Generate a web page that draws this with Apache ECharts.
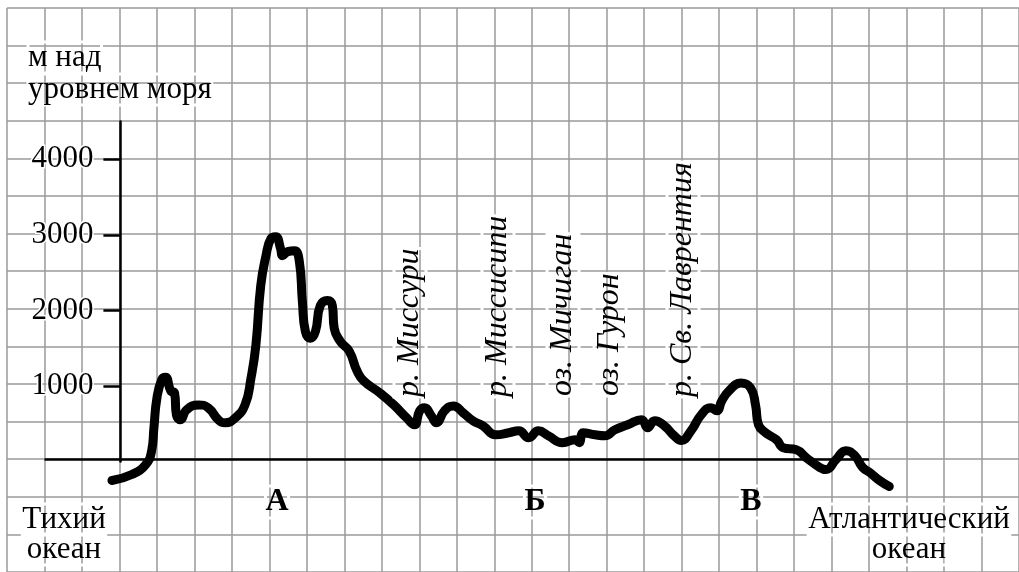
<!DOCTYPE html>
<html>
<head>
<meta charset="utf-8">
<script src="https://cdn.jsdelivr.net/npm/echarts@6/dist/echarts.min.js"></script>
<style>
html,body{margin:0;padding:0;background:#fff;}
#c{width:1019px;height:572px;}
</style>
</head>
<body>
<div id="c"></div>
<script>
// distance along the profile, in grid cells
const distance = [2.80,3.33,3.70,3.86,3.92,4.00,4.13,4.23,4.37,4.47,4.52,4.63,4.79,5.11,5.37,5.64,5.82,6.09,6.35,6.51,6.64,6.77,6.91,7.04,7.17,7.30,7.35,7.49,7.67,7.80,7.88,7.96,8.10,8.23,8.36,8.55,8.68,8.73,8.89,9.13,9.34,9.52,9.95,10.32,10.66,10.87,11.01,11.14,11.32,11.46,11.67,11.91,12.17,12.43,12.70,13.04,13.39,13.65,13.92,14.18,14.44,14.82,15.16,15.27,15.37,15.69,15.95,16.22,16.56,16.93,17.09,17.28,17.54,17.80,17.99,18.25,18.52,18.78,18.94,19.07,19.26,19.58,19.84,19.97,20.05,20.24,20.53,20.71,21.06,21.32,21.69,21.85,22.12,22.38,22.62,22.83,23.02,23.28,23.54];
// elevation, m above sea level
const elevation = [-283,-204,-71,114,418,815,1060,1090,907,881,590,524,656,722,683,524,484,550,722,1079,1516,2310,2707,2932,2958,2800,2707,2760,2773,2627,2098,1701,1608,1701,2045,2111,2045,1741,1569,1437,1172,1040,881,722,550,458,643,683,577,484,643,709,617,511,444,325,352,378,286,378,312,220,259,220,352,325,312,391,458,524,418,511,444,312,250,378,590,683,643,775,907,1013,947,722,458,352,259,153,127,21,-111,-138,-5,114,48,-111,-177,-283,-363];
const yTicks = [1000,2000,3000,4000];
const zeroLineFrom = 1, zeroLineTo = 23;

const serif = "'Liberation Serif','Times New Roman',serif";
const profile = distance.map((d,i)=>[d, elevation[i]]);

const chart = echarts.init(document.getElementById('c'), null, {renderer:'canvas'});
const halo = {textBorderColor:'#fff', textBorderWidth:3};
function rot(text, x, y){
  return {type:'text', x:x, y:y, rotation:Math.PI/2, z:10,
    style:Object.assign({text:text, fill:'#000', font:'italic 32px '+serif, textAlign:'left', textVerticalAlign:'middle'}, halo)};
}
function txt(text, x, y, opts){
  return {type:'text', x:x, y:y, z:10,
    style:Object.assign({text:text, fill:'#000', font:'31px '+serif, textAlign:'left', textVerticalAlign:'top'}, halo, opts||{})};
}
chart.setOption({
  animation:false,
  backgroundColor:'#fff',
  grid:[
    {left:7, top:8, width:37.8*27, height:567, containLabel:false},
    {left:120.4, top:121.4, width:10, height:340.2, containLabel:false}
  ],
  xAxis:[
    {type:'value', gridIndex:0, min:0, max:27, interval:1,
      axisLine:{show:false}, axisTick:{show:false}, axisLabel:{show:false},
      splitLine:{show:true, lineStyle:{color:'#9a9a9a', width:1.5}}},
    {type:'value', gridIndex:1, min:0, max:1, show:false}
  ],
  yAxis:[
    {type:'value', gridIndex:0, min:-1500, max:6000, interval:500,
      axisLine:{show:false}, axisTick:{show:false}, axisLabel:{show:false},
      splitLine:{show:true, lineStyle:{color:'#9a9a9a', width:1.5}}},
    {type:'value', gridIndex:1, min:0, max:4500,
      axisLine:{show:true, onZero:false, lineStyle:{color:'#000', width:2.5}},
      axisTick:{show:true, customValues:yTicks, length:17, lineStyle:{color:'#000', width:2.5}},
      axisLabel:{show:true, customValues:yTicks, margin:27, color:'#000', fontSize:31, fontFamily:serif,
        formatter:function(v){return String(v);},
        textBorderColor:'#fff', textBorderWidth:3},
      splitLine:{show:false}}
  ],
  series:[{
    type:'line', xAxisIndex:0, yAxisIndex:0,
    data:profile, showSymbol:false, symbol:'none',
    smooth:0.5,
    lineStyle:{color:'#000', width:9, cap:'round', join:'round'},
    z:5,
    markLine:{silent:true, symbol:['none','none'], label:{show:false},
      lineStyle:{color:'#000', width:2.5, type:'solid'},
      data:[[{coord:[zeroLineFrom,0]},{coord:[zeroLineTo,0]}]]}
  }],
  graphic:[
    txt('м над', 28, 42),
    txt('уровнем моря', 28, 74),
    txt('Тихий', 64, 504, {textAlign:'center'}),
    txt('океан', 64, 534, {textAlign:'center'}),
    txt('Атлантический', 909, 504, {textAlign:'center'}),
    txt('океан', 909, 534, {textAlign:'center'}),
    txt('А', 277, 486, {textAlign:'center', font:'bold 32px '+serif}),
    txt('Б', 535, 486, {textAlign:'center', font:'bold 32px '+serif}),
    txt('В', 751, 486, {textAlign:'center', font:'bold 32px '+serif}),
    rot('р. Миссури', 410, 397),
    rot('р. Миссисипи', 498, 397),
    rot('оз. Мичиган', 563, 396),
    rot('оз. Гурон', 610, 396),
    rot('р. Св. Лаврентия', 683, 397)
  ]
});
</script>
</body>
</html>
